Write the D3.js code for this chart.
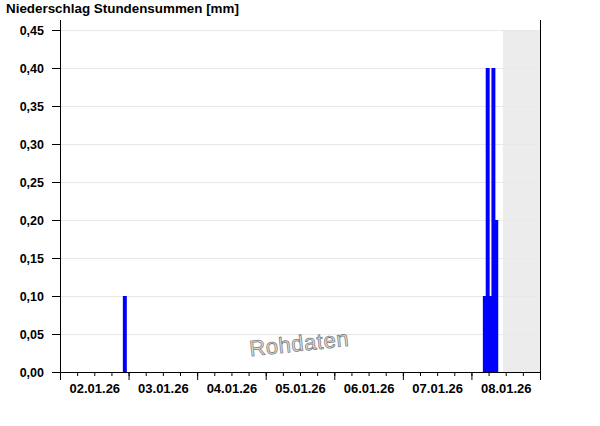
<!DOCTYPE html>
<html>
<head>
<meta charset="utf-8">
<script src="https://cdn.jsdelivr.net/npm/d3@7"></script>
<style>
  body { margin: 0; background: #fff; }
  svg { display: block; font-family: "Liberation Sans", Arial, sans-serif; }
  .tick text { font-weight: bold; fill: #000; }
</style>
</head>
<body>
<svg width="600" height="426"></svg>
<script>
// hourly sums (mm), only hours with rain
var rainHours = ["2026-01-02T22:00", "2026-01-08T04:00", "2026-01-08T05:00", "2026-01-08T06:00", "2026-01-08T07:00", "2026-01-08T08:00"];
var rainValues = [0.10, 0.10, 0.40, 0.10, 0.40, 0.20];
var startDay = "2026-01-02T00:00";
var endDay = "2026-01-09T00:00";
var nowTime = "2026-01-08T11:00";
var yTicks = [0, 0.05, 0.10, 0.15, 0.20, 0.25, 0.30, 0.35, 0.40, 0.45];

var svg = d3.select("svg");
var plotLeft = 60, plotRight = 540, plotTop = 30, plotBottom = 372;

var parse = d3.utcParse("%Y-%m-%dT%H:%M");

var x = d3.scaleUtc()
  .domain([parse(startDay), parse(endDay)])
  .range([plotLeft, plotRight]);

var y = d3.scaleLinear()
  .domain([0, 0.45])
  .range([plotBottom, plotTop]);

var de = d3.formatLocale({ decimal: ",", thousands: ".", grouping: [3], currency: ["", " €"] });
var fmtY = de.format(".2f");

// future (no data yet)
svg.append("rect")
  .attr("x", x(parse(nowTime)))
  .attr("y", plotTop)
  .attr("width", plotRight - x(parse(nowTime)))
  .attr("height", plotBottom - plotTop)
  .attr("fill", "#ececec");

// grid
svg.append("g").selectAll("line").data(yTicks.slice(1)).enter().append("line")
  .attr("x1", plotLeft).attr("x2", plotRight)
  .attr("y1", function(d) { return Math.round(y(d)) + 0.5; })
  .attr("y2", function(d) { return Math.round(y(d)) + 0.5; })
  .attr("stroke", "#e8e8e8");

// watermark
svg.append("text")
  .attr("transform", "translate(300,351) rotate(-6)")
  .attr("text-anchor", "middle")
  .attr("font-family", "'Liberation Sans', Arial, sans-serif")
  .attr("font-size", 22)
  .attr("letter-spacing", 0.6)
  .attr("fill", "#e6e6e6")
  .attr("stroke", "#7f7f7f")
  .attr("stroke-width", 0.8)
  .text("Rohdaten");

// bars, a bit wider than one hour, drawn in time order
var bars = rainHours.map(function(h, i) { return { t: parse(h), v: rainValues[i] }; });
svg.append("g").selectAll("rect").data(bars).enter().append("rect")
  .attr("x", function(d) { return x(d.t); })
  .attr("width", function(d) { return x(d3.utcHour.offset(d.t, 1)) - x(d.t) + 1.1; })
  .attr("y", function(d) { return y(d.v); })
  .attr("height", function(d) { return plotBottom - y(d.v); })
  .attr("fill", "#0000ff");

// y axis
var yAxis = svg.append("g")
  .attr("transform", "translate(" + plotLeft + ",0)")
  .call(d3.axisLeft(y).tickValues(yTicks).tickFormat(fmtY).tickSize(8).tickPadding(8).tickSizeOuter(0));
yAxis.select(".domain").remove();
yAxis.selectAll("text").attr("font-size", 12.5).attr("font-family", "'Liberation Sans', Arial, sans-serif");

// x axis: minor 6h ticks, major day ticks, labels at noon
var xMinor = svg.append("g")
  .attr("transform", "translate(0," + plotBottom + ")")
  .call(d3.axisBottom(x).ticks(d3.utcHour.every(6)).tickFormat("").tickSize(4).tickSizeOuter(0));
xMinor.select(".domain").remove();

var xMajor = svg.append("g")
  .attr("transform", "translate(0," + plotBottom + ")")
  .call(d3.axisBottom(x).ticks(d3.utcDay.every(1)).tickFormat("").tickSize(8).tickSizeOuter(0));
xMajor.select(".domain").remove();

var noons = d3.utcDay.range(parse(startDay), parse(endDay)).map(function(d) { return d3.utcHour.offset(d, 12); });
var xLabels = svg.append("g")
  .attr("transform", "translate(0," + plotBottom + ")")
  .call(d3.axisBottom(x).tickValues(noons).tickFormat(d3.utcFormat("%d.%m.%y")).tickSize(0).tickPadding(12));
xLabels.select(".domain").remove();
xLabels.selectAll("text").attr("font-size", 13).attr("font-family", "'Liberation Sans', Arial, sans-serif");

// frame lines
svg.append("line").attr("x1", plotLeft + 0.5).attr("x2", plotLeft + 0.5).attr("y1", 20).attr("y2", plotBottom + 0.5).attr("stroke", "#000");
svg.append("line").attr("x1", plotRight + 0.5).attr("x2", plotRight + 0.5).attr("y1", 20).attr("y2", plotBottom + 0.5).attr("stroke", "#000");
svg.append("line").attr("x1", plotLeft).attr("x2", plotRight + 1).attr("y1", plotBottom + 0.5).attr("y2", plotBottom + 0.5).attr("stroke", "#000");

// title
svg.append("text")
  .attr("x", 6).attr("y", 13)
  .attr("font-size", 13.4)
  .attr("font-weight", "bold")
  .text("Niederschlag Stundensummen [mm]");
</script>
</body>
</html>
